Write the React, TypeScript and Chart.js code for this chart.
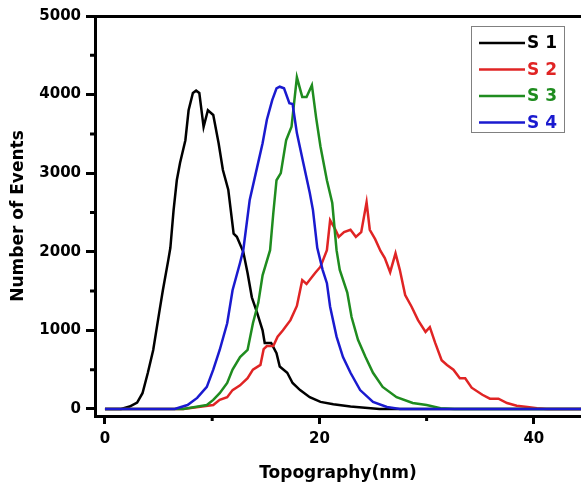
import React, { useEffect, useRef } from "react";
import { Chart, registerables } from "chart.js";

Chart.register(...registerables);

const seriesLabels = ["S 1", "S 2", "S 3", "S 4"];
const seriesColors = ["#000000", "#e02424", "#1f8c1f", "#1a1acf"];

const s1X = [0, 1.5, 2.3, 3.0, 3.5, 4.0, 4.5, 5.1, 5.4, 5.9, 6.1, 6.4, 6.7, 7.0, 7.5, 7.8, 8.2, 8.5, 8.8, 9.2, 9.6, 10.1, 10.6, 11.0, 11.5, 12.0, 12.3, 12.9, 13.3, 13.7, 14.2, 14.7, 14.9, 15.5, 16.0, 16.3, 17.0, 17.5, 18.2, 19.1, 20.1, 21.3, 22.9, 25.6, 46];
const s1Y = [0, 0, 30, 80, 200, 460, 750, 1260, 1510, 1890, 2050, 2530, 2910, 3130, 3420, 3800, 4020, 4050, 4020, 3590, 3800, 3740, 3380, 3040, 2790, 2230, 2190, 2000, 1730, 1420, 1220, 1000, 840, 840, 710, 540, 460, 330, 240, 150, 90, 60, 30, 0, 0];

const s2X = [0, 7.3, 10.1, 10.7, 11.4, 11.9, 12.6, 13.3, 13.8, 14.5, 14.8, 15.1, 15.7, 16.1, 16.6, 17.3, 17.9, 18.4, 18.8, 19.6, 20.1, 20.7, 21.0, 21.5, 21.8, 22.3, 22.9, 23.4, 23.9, 24.4, 24.7, 25.2, 25.7, 26.1, 26.6, 27.1, 27.5, 28.0, 28.6, 29.2, 29.9, 30.3, 30.8, 31.4, 31.9, 32.5, 33.1, 33.6, 34.2, 35.2, 35.9, 36.7, 37.5, 38.4, 39.4, 40.3, 41.2, 46];
const s2Y = [0, 0, 50, 115, 150, 240, 300, 390, 500, 560, 760, 800, 800, 920, 1000, 1130, 1310, 1640, 1590, 1730, 1810, 2020, 2400, 2280, 2190, 2250, 2280, 2190, 2250, 2630, 2280, 2160, 2010, 1920, 1740, 1980, 1770, 1450, 1300, 1130, 980, 1040, 840, 620, 560, 500, 390, 390, 270, 180, 130, 130, 75, 40, 25, 10, 0, 0];

const s3X = [0, 7.3, 9.5, 10.1, 10.7, 11.4, 11.9, 12.6, 13.3, 13.8, 14.3, 14.7, 15.4, 15.7, 16.0, 16.4, 16.9, 17.4, 17.9, 18.4, 18.8, 19.3, 19.7, 20.1, 20.7, 21.2, 21.6, 21.9, 22.6, 23.0, 23.6, 24.3, 25.0, 25.9, 27.2, 28.7, 30.0, 31.3, 32.6, 46];
const s3Y = [0, 0, 50, 115, 200, 330, 500, 660, 750, 1090, 1350, 1700, 2020, 2490, 2910, 3000, 3420, 3590, 4220, 3970, 3970, 4120, 3700, 3340, 2910, 2620, 2020, 1770, 1480, 1170, 880, 660, 460, 280, 150, 75, 50, 10, 0, 0];

const s4X = [0, 6.5, 7.7, 8.6, 9.5, 10.1, 10.7, 11.4, 11.9, 12.6, 12.9, 13.5, 14.2, 14.7, 15.1, 15.6, 16.0, 16.3, 16.7, 17.2, 17.5, 17.9, 18.5, 19.1, 19.4, 19.8, 20.3, 20.7, 21.0, 21.6, 22.2, 22.9, 23.8, 25.0, 26.3, 27.5, 46];
const s4Y = [0, 0, 50, 140, 280, 500, 750, 1090, 1510, 1860, 2020, 2660, 3080, 3380, 3680, 3930, 4080, 4100, 4080, 3890, 3880, 3510, 3130, 2750, 2530, 2050, 1770, 1600, 1300, 920, 660, 460, 240, 90, 25, 0, 0];

const xMajorTicks = [0, 20, 40];
const xMinorTicks = [10, 30];
const yMajorTicks = [0, 1000, 2000, 3000, 4000, 5000];
const yMinorTicks = [500, 1500, 2500, 3500, 4500];

const FONT = "'DejaVu Sans', 'Liberation Sans', Arial, sans-serif";

const toPoints = (xs: number[], ys: number[]) => xs.map((x, i) => ({ x, y: ys[i] }));

const minorTickPlugin = {
  id: "minorTicks",
  afterDraw(chart: any) {
    const ctx = chart.ctx;
    const xs = chart.scales.x;
    const ys = chart.scales.y;
    ctx.save();
    ctx.strokeStyle = "#000";
    ctx.lineWidth = 3;
    ctx.beginPath();
    xMinorTicks.forEach((v) => {
      const px = xs.getPixelForValue(v);
      ctx.moveTo(px, xs.top);
      ctx.lineTo(px, xs.top + 5);
    });
    yMinorTicks.forEach((v) => {
      const py = ys.getPixelForValue(v);
      ctx.moveTo(ys.right, py);
      ctx.lineTo(ys.right - 5, py);
    });
    ctx.stroke();
    ctx.restore();
  },
};

const legendBoxPlugin = {
  id: "legendBox",
  afterDraw(chart: any) {
    const ctx = chart.ctx;
    const left = 471;
    const top = 26;
    const w = 93;
    const h = 106;
    ctx.save();
    ctx.fillStyle = "#ffffff";
    ctx.fillRect(left, top, w, h);
    ctx.strokeStyle = "#808080";
    ctx.lineWidth = 1;
    ctx.strokeRect(left + 0.5, top + 0.5, w, h);
    chart.data.datasets.forEach((ds: any, i: number) => {
      const y = top + 17 + i * 26.5;
      ctx.strokeStyle = ds.borderColor;
      ctx.lineWidth = 2.5;
      ctx.beginPath();
      ctx.moveTo(left + 8, y);
      ctx.lineTo(left + 54, y);
      ctx.stroke();
      ctx.fillStyle = ds.borderColor;
      ctx.font = `bold 17px ${FONT}`;
      ctx.textAlign = "left";
      ctx.textBaseline = "middle";
      ctx.fillText(ds.label, left + 56, y + 1);
    });
    ctx.restore();
  },
};

export default function App() {
  const ref = useRef<HTMLCanvasElement | null>(null);

  useEffect(() => {
    if (!ref.current) return;
    const xs = [s1X, s2X, s3X, s4X];
    const ysArr = [s1Y, s2Y, s3Y, s4Y];
    const orders = [3, 2, 1, 0];
    const chart = new Chart(ref.current, {
      type: "line",
      data: {
        datasets: seriesLabels.map((label, i) => ({
          label,
          data: toPoints(xs[i], ysArr[i]),
          borderColor: seriesColors[i],
          backgroundColor: seriesColors[i],
          borderWidth: 2.5,
          pointRadius: 0,
          tension: 0,
          fill: false,
          order: orders[i],
        })),
      },
      options: {
        animation: false,
        responsive: false,
        layout: { padding: 0 },
        plugins: {
          legend: { display: false },
          tooltip: { enabled: false },
        },
        scales: {
          x: {
            type: "linear",
            position: "bottom",
            min: -0.93,
            max: 44.4,
            border: { display: true, color: "#000", width: 3 },
            grid: {
              display: true,
              drawOnChartArea: false,
              drawTicks: true,
              tickLength: 8,
              tickWidth: 3,
              tickColor: "#000",
            },
            ticks: {
              color: "#000",
              font: { family: FONT, size: 15, weight: "bold" },
              padding: 6,
              maxRotation: 0,
              callback: (v: any) => String(v),
            },
            afterBuildTicks: (s: any) => {
              s.ticks = xMajorTicks.map((v) => ({ value: v }));
            },
            afterFit: (s: any) => {
              s.height = 71;
            },
            title: {
              display: true,
              text: "Topography(nm)",
              color: "#000",
              font: { family: FONT, size: 17, weight: "bold" },
              padding: { top: 0, bottom: 3 },
            },
          },
          x2: {
            type: "linear",
            position: "top",
            min: -0.93,
            max: 44.4,
            border: { display: true, color: "#000", width: 3 },
            grid: { display: false },
            ticks: { display: false },
            afterFit: (s: any) => {
              s.height = 16;
            },
          },
          y: {
            type: "linear",
            position: "left",
            min: -90,
            max: 5000,
            border: { display: true, color: "#000", width: 3 },
            grid: {
              display: true,
              drawOnChartArea: false,
              drawTicks: true,
              tickLength: 9,
              tickWidth: 3,
              tickColor: "#000",
            },
            ticks: {
              color: "#000",
              font: { family: FONT, size: 15, weight: "bold" },
              padding: 5,
              callback: (v: any) => String(v),
            },
            afterBuildTicks: (s: any) => {
              s.ticks = yMajorTicks.map((v) => ({ value: v }));
            },
            afterFit: (s: any) => {
              s.width = 95;
            },
            title: {
              display: true,
              text: "Number of Events",
              color: "#000",
              font: { family: FONT, size: 17, weight: "bold" },
              padding: { top: 8, bottom: 0 },
            },
          },
        },
      } as any,
      plugins: [minorTickPlugin, legendBoxPlugin],
    });
    return () => chart.destroy();
  }, []);

  return (
    <div style={{ position: "absolute", left: 0, top: 0, width: 581, height: 487, background: "#fff" }}>
      <canvas ref={ref} width={581} height={487} style={{ display: "block" }} />
    </div>
  );
}
